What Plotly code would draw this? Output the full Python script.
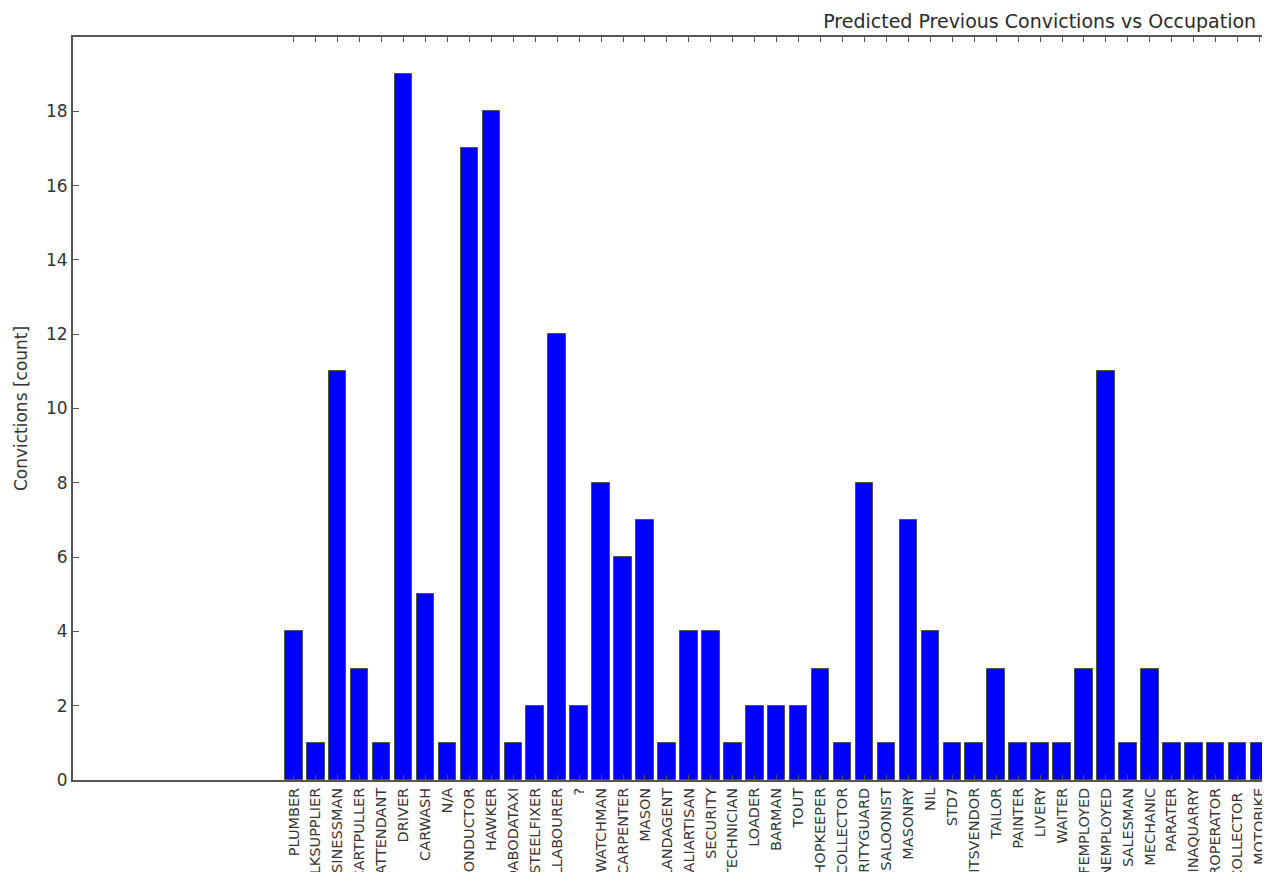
import plotly.graph_objects as go

occupations = [
    "PLUMBER", "LKSUPPLIER", "USINESSMAN", "CARTPULLER", "ATTENDANT", "DRIVER",
    "CARWASH", "N/A", "CONDUCTOR", "HAWKER", "ODABODATAXI", "STEELFIXER",
    "LLABOURER", "?", "WATCHMAN", "CARPENTER", "MASON", "LANDAGENT",
    "KALIARTISAN", "SECURITY", "TECHNICIAN", "LOADER", "BARMAN", "TOUT",
    "SHOPKEEPER", "COLLECTOR", "URITYGUARD", "SALOONIST", "MASONRY", "NIL",
    "STD7", "ITSVENDOR", "TAILOR", "PAINTER", "LIVERY", "WAITER",
    "FEMPLOYED", "NEMPLOYED", "SALESMAN", "MECHANIC", "PARATER", "INAQUARRY",
    "ROPERATOR", "COLLECTOR ", "MOTOBIKE",
]
convictions = [
    4, 1, 11, 3, 1, 19,
    5, 1, 17, 18, 1, 2,
    12, 2, 8, 6, 7, 1,
    4, 4, 1, 2, 2, 2,
    3, 1, 8, 1, 7, 4,
    1, 1, 3, 1, 1, 1,
    3, 11, 1, 3, 1, 1,
    1, 1, 1,
]
y_ticks = [0, 2, 4, 6, 8, 10, 12, 14, 16, 18]

positions = list(range(len(occupations)))

fig = go.Figure()
fig.add_trace(go.Bar(
    x=positions,
    y=convictions,
    width=0.8,
    marker=dict(color="#0000ff", line=dict(color="#505050", width=1)),
    showlegend=False,
))

axis_color = "#555555"
fig.update_layout(
    width=1270,
    height=872,
    template="none",
    paper_bgcolor="white",
    plot_bgcolor="white",
    margin=dict(l=65, r=0, t=29, b=100, autoexpand=False),
    font=dict(family="DejaVu Sans", color="#333333"),
    bargap=0,
    title=dict(
        text="Predicted Previous Convictions vs Occupation",
        x=1247 / 1270, xanchor="right", xref="paper",
        y=1 - 13 / 872, yanchor="middle", yref="container",
        font=dict(size=19, color="#2a2a2a", family="DejaVu Sans"),
        automargin=False,
    ),
    xaxis=dict(
        range=[-10.06, 44.84],
        tickmode="array",
        tickvals=positions,
        ticktext=occupations,
        tickangle=-90,
        tickfont=dict(size=14.5, color="#333333"),
        ticks="inside",
        ticklen=5,
        tickcolor=axis_color,
        showline=True,
        linecolor=axis_color,
        linewidth=2,
        mirror="ticks",
        showgrid=False,
        zeroline=False,
        automargin=False,
    ),
    yaxis=dict(
        range=[0, 20],
        tickmode="array",
        tickvals=y_ticks,
        ticktext=[str(v) for v in y_ticks],
        tickfont=dict(size=17, color="#333333"),
        ticks="inside",
        ticklen=6,
        tickcolor=axis_color,
        showline=True,
        linecolor=axis_color,
        linewidth=2,
        showgrid=False,
        zeroline=False,
        automargin=False,
        title=dict(text="Convictions [count]", font=dict(size=17, color="#333333"), standoff=14),
    ),
)

fig.write_html("out.html")
